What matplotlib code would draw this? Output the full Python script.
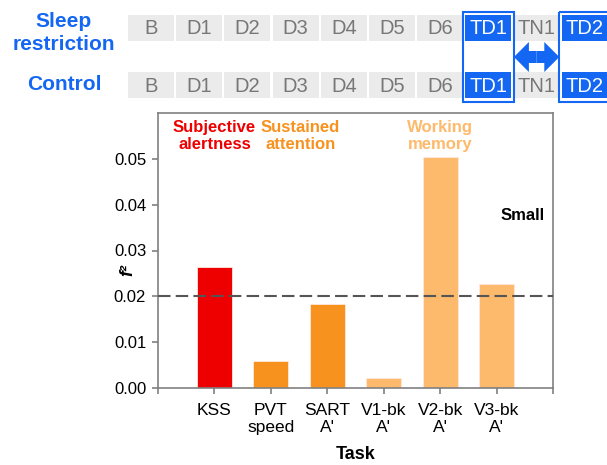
import matplotlib.pyplot as plt
from matplotlib.patches import Rectangle, FancyArrow

plt.rcParams["font.family"] = ["Liberation Sans", "DejaVu Sans"]

# Effect sizes per task
tasks = ["KSS", "PVT\nspeed", "SART\nA'", "V1-bk\nA'", "V2-bk\nA'", "V3-bk\nA'"]
f2 = [0.0264, 0.0059, 0.0184, 0.0022, 0.0505, 0.0228]
domains = ["alertness", "attention", "attention", "memory", "memory", "memory"]
small_effect = 0.02

# Study schedule shown above the chart
days = ["B", "D1", "D2", "D3", "D4", "D5", "D6", "TD1", "TN1", "TD2"]
test_days = ["TD1", "TD2"]
conditions = ["Sleep\nrestriction", "Control"]

RED = "#EE0000"
ORANGE = "#F7921E"
LIGHT = "#FDB96C"
BLUE = "#1467F2"
domain_colors = {"alertness": RED, "attention": ORANGE, "memory": LIGHT}

fig = plt.figure(figsize=(6.07, 4.65), dpi=100)

# ---- schedule diagram, drawn in pixel units over the whole figure ----
top = fig.add_axes([0, 0, 1, 1])
top.set_xlim(0, 607)
top.set_ylim(465, 0)
top.axis("off")

x0, step, cw, ch = 128, 48.2, 46, 26
row_y = [15, 72]
label_y = [33, 85]
for r, cond in enumerate(conditions):
    y = row_y[r]
    top.text(64, label_y[r], cond, color=BLUE, fontsize=15,
             fontweight="bold", ha="center", va="center", linespacing=1.25)
    for i, d in enumerate(days):
        x = x0 + i * step
        hot = d in test_days
        top.add_patch(Rectangle((x, y), cw, ch,
                                facecolor=BLUE if hot else "#EBEBEB",
                                edgecolor="none"))
        top.text(x + cw / 2, y + ch / 2 + 1, d, fontsize=14.5,
                 color="white" if hot else "#777777",
                 ha="center", va="center")

# outline around each test day column
for d in test_days:
    x = x0 + days.index(d) * step
    top.add_patch(Rectangle((x - 2.5, 12), cw + 5, 90, facecolor="none",
                            edgecolor=BLUE, lw=1.5))

# double-headed arrow between the two test days
xa = x0 + days.index("TD1") * step + cw + 2.5
xb = x0 + days.index("TD2") * step - 2.5
xc, yc = (xa + xb) / 2, 57
for end in (xa, xb):
    top.add_patch(FancyArrow(xc, yc, end - xc, 0, width=12, head_width=30,
                             head_length=15, length_includes_head=True,
                             color=BLUE, lw=0))

# ---- bar chart ----
ax = fig.add_axes([158 / 607, 1 - 388 / 465, 395 / 607, 275 / 465])
pos = list(range(len(tasks)))
ax.bar(pos, f2, width=0.62, color=[domain_colors[d] for d in domains],
       edgecolor="#FFE8E0", linewidth=0.6, zorder=2)
ax.axhline(small_effect, color="#555555", lw=1.5, ls=(0, (6, 2.5)), zorder=3)

ax.set_xlim(-1, 6)
ax.set_ylim(0, 0.06)
ax.set_xticks(range(-1, 7))
ax.set_xticklabels([""] + tasks + [""], fontsize=12.5, linespacing=1.2)
ax.set_yticks([0, 0.01, 0.02, 0.03, 0.04, 0.05])
ax.set_yticklabels(["0.00", "0.01", "0.02", "0.03", "0.04", "0.05"], fontsize=12)
ax.tick_params(direction="out", length=4.5, width=1.2, color="#808080", pad=4)
ax.tick_params(axis="x", pad=6)
for s in ax.spines.values():
    s.set_color("#808080")
    s.set_linewidth(1.2)

ax.set_xlabel("Task", fontsize=13, fontweight="bold", labelpad=8)
ax.text(-0.076, 0.43, "f²", transform=ax.transAxes, rotation=90, fontsize=13,
        fontweight="bold", style="italic", ha="center", va="center")

# domain headings
ax.text(0, 0.0550, "Subjective\nalertness", color=RED, fontsize=12,
        fontweight="bold", ha="center", va="center", linespacing=1.2)
ax.text(1.52, 0.0550, "Sustained\nattention", color=ORANGE, fontsize=12,
        fontweight="bold", ha="center", va="center", linespacing=1.2)
ax.text(4, 0.0550, "Working\nmemory", color=LIGHT, fontsize=12,
        fontweight="bold", ha="center", va="center", linespacing=1.2)
ax.text(5.85, 0.0376, "Small", fontsize=12, fontweight="bold",
        ha="right", va="center")

fig.savefig("out.png", dpi=100)
